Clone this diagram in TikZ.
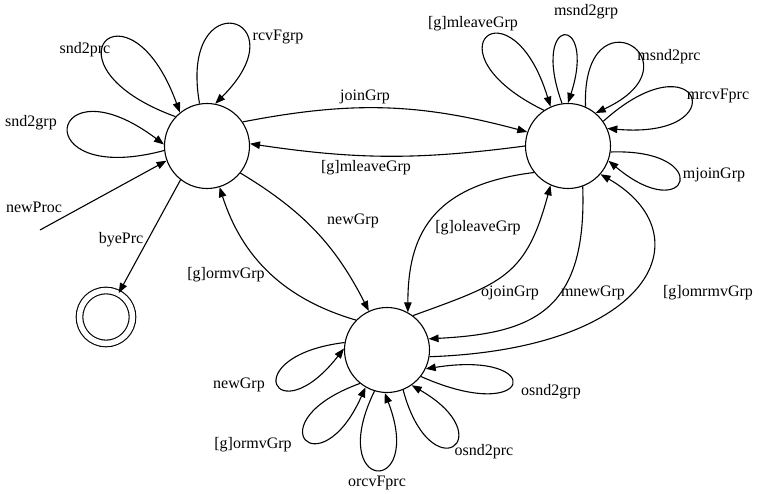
\documentclass[tikz,border=0pt]{standalone}
\usepackage{fontspec}
\setmainfont{Liberation Serif}
\usetikzlibrary{arrows.meta, positioning}
\tikzset{
  st/.style={circle, draw, line width=1.1pt, minimum size=85pt, inner sep=0pt},
  fin/.style={circle, draw, line width=1.1pt, double, double distance=5.5pt, minimum size=53pt, inner sep=0pt},
  pto/.style={-{Triangle[length=10pt,width=7.5pt]}, line width=1.1pt},
  lbl/.style={inner sep=0pt, outer sep=0pt}
}

\begin{document}
\begin{tikzpicture}[x=1pt, y=1pt, font=\fontsize{16}{19}\selectfont]
  \useasboundingbox (0,0) rectangle (760,494);

  % states
  \node[st] (prc) at (207,348) {};
  \node[st] (mbr) at (568,348) {};
  \node[st] (own) at (387,144) {};
  \node[fin] (bye) at (106,177) {};
  \coordinate (init) at (40,264);

  % process
  \draw[pto] (init) -- (prc.200);
  \draw[pto] (prc.232) -- (bye.62);
  \draw[pto] (prc.186) to[out=195,in=143,distance=145pt] (prc.178);
  \draw[pto] (prc.137) to[out=160,in=110,distance=150pt] (prc.129);
  \draw[pto] (prc.100) to[out=100,in=45,distance=125pt] (prc.79);

  % process <-> member
  \draw[pto] (prc.34) to[bend left=13] (mbr.161);
  \draw[pto] (mbr.180) to[bend left=8] (prc.3);

  % process <-> owner
  \draw[pto] (prc.-39) to[bend left=16] (own.115);
  \draw[pto] (own.136) to[bend left=28] (prc.287);

  % member loops
  \draw[pto] (mbr.124) to[out=154,in=107,distance=135pt] (mbr.114);
  \draw[pto] (mbr.98) to[out=110,in=72,distance=95pt] (mbr.90);
  \draw[pto] (mbr.66) to[out=92,in=25,distance=120pt] (mbr.50);
  \draw[pto] (mbr.35) to[out=42,in=-5,distance=130pt] (mbr.24);
  \draw[pto] (mbr.-8) to[out=2,in=-40,distance=105pt] (mbr.-20);

  % member <-> owner
  \draw[pto] (mbr.218) to[out=187,in=90,out distance=105pt,in distance=75pt] (own.61);
  \draw[pto] (own.53) to[out=20,in=255,distance=95pt] (mbr.246);
  \draw[pto] (mbr.290) to[out=272,in=3,out distance=125pt,in distance=105pt] (own.15);
  \draw[pto] (own.351) to[out=2,in=-30,out distance=225pt,in distance=120pt] (mbr.319);

  % owner loops
  \draw[pto] (own.170) to[out=187,in=232,distance=111pt] (own.178);
  \draw[pto] (own.231) to[out=200,in=246,distance=113pt] (own.240);
  \draw[pto] (own.253) to[out=244,in=291,distance=113pt] (own.267);
  \draw[pto] (own.292) to[out=285,in=330,distance=106pt] (own.305);
  \draw[pto] (own.322) to[out=336,in=9,distance=124pt] (own.334);

  % labels
  \node[lbl] (l-rcv) at (278,457) {rcvFgrp};
  \node[lbl] (l-sprc) at (85,444) {snd2prc};
  \node[lbl] (l-sgrp) at (31,371) {snd2grp};
  \node[lbl] (l-new) at (34,287) {newProc};
  \node[lbl] (l-bye) at (121,254) {byePrc};
  \node[lbl] (l-join) at (365,397) {joinGrp};
  \node[lbl] (l-leave) at (366,326) {[g]mleaveGrp};
  \node[lbl] (l-newgrp) at (353,273) {newGrp};
  \node[lbl] (l-rmv) at (226,219) {[g]ormvGrp};

  \node[lbl] (l-mleave) at (473,470) {[g]mleaveGrp};
  \node[lbl] (l-msgrp) at (586,482) {msnd2grp};
  \node[lbl] (l-msprc) at (669,437) {msnd2prc};
  \node[lbl] (l-mrcv) at (718,398) {mrcvFprc};
  \node[lbl] (l-mjoin) at (714,319) {mjoinGrp};

  \node[lbl] (l-oleave) at (478,266) {[g]oleaveGrp};
  \node[lbl] (l-ojoin) at (510,201) {ojoinGrp};
  \node[lbl] (l-mnew) at (593,201) {mnewGrp};
  \node[lbl] (l-omrmv) at (708,201) {[g]omrmvGrp};

  \node[lbl] (l-onew) at (239,109) {newGrp};
  \node[lbl] (l-ormv) at (253,49) {[g]ormvGrp};
  \node[lbl] (l-orcv) at (377,11) {orcvFprc};
  \node[lbl] (l-osprc) at (484,42) {osnd2prc};
  \node[lbl] (l-osgrp) at (551,102) {osnd2grp};
\end{tikzpicture}
\end{document}
